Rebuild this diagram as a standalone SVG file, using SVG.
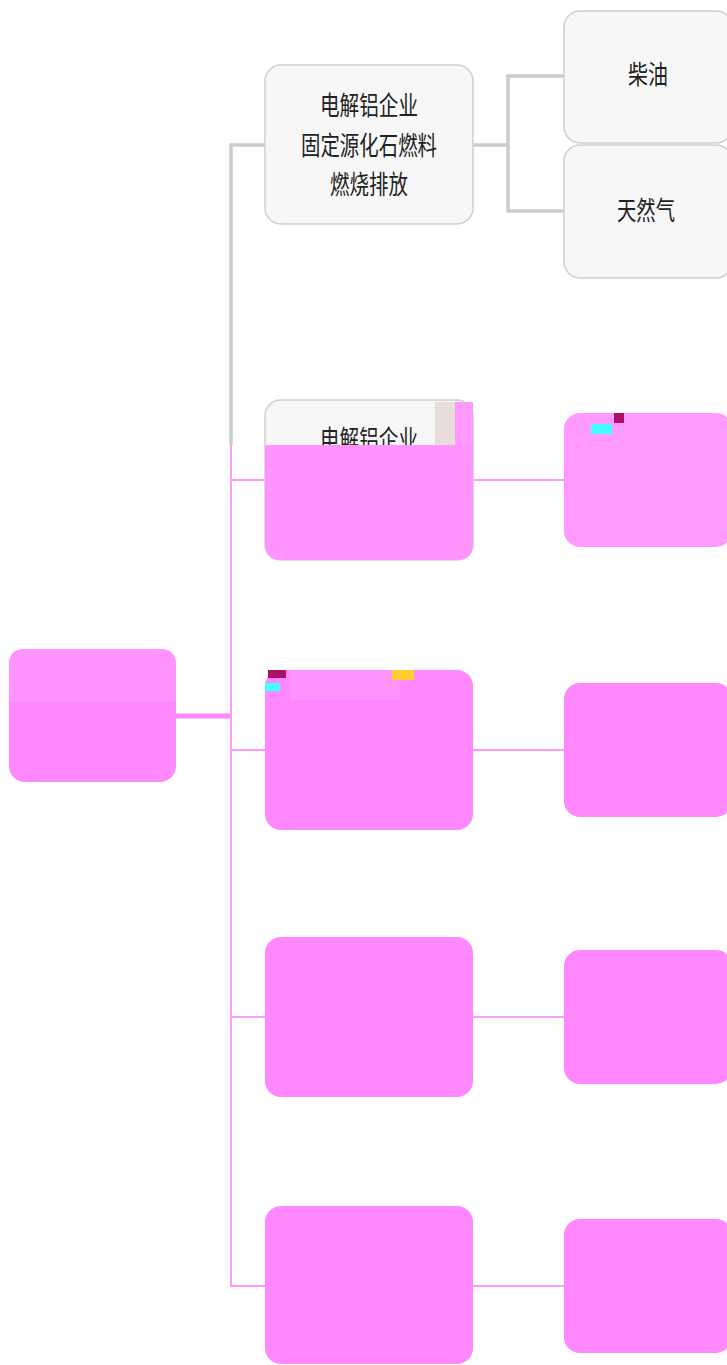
<svg xmlns="http://www.w3.org/2000/svg" width="727" height="1365" viewBox="0 0 727 1365">
<style>
.g{fill:#f7f7f7;stroke:#cfcfcf;stroke-width:1.5}
.p{fill:#ff88ff}
.cg{fill:none;stroke:#cccccc;stroke-width:3.5}
.cp{fill:none;stroke:#ff99ff;stroke-width:2}
.t{font-family:"Noto Sans CJK SC","Noto Sans",sans-serif;font-size:26px;fill:#222;text-anchor:middle}
</style>
<rect width="727" height="1365" fill="#ffffff"/>
<g id="connectors">
<path class="cg" d="M231,445 V145 H265"/>
<path class="cg" d="M473,145 H508 M564,76 H508 V211 H564"/>
<path class="cp" d="M231,445 V1286 H265"/>
<path class="cp" d="M231,480 H265 M473,480 H564"/>
<path class="cp" d="M231,750 H265 M473,750 H564"/>
<path class="cp" d="M231,1017 H265 M473,1017 H564"/>
<path class="cp" d="M473,1286 H564"/>
<path d="M176,716 H231" fill="none" stroke="#ff88ff" stroke-width="5"/>
</g>
<g id="root">
<rect class="p" x="9" y="649" width="167" height="133" rx="16"/>
<path d="M9,702 V665 Q9,649 25,649 H160 Q176,649 176,665 V702 Z" fill="#ff94ff"/>
</g>
<g id="n1">
<rect class="g" x="265" y="65" width="208" height="159" rx="16"/>
<text class="t" x="369" y="115" textLength="98" lengthAdjust="spacingAndGlyphs">电解铝企业</text>
<text class="t" x="369" y="155" textLength="136" lengthAdjust="spacingAndGlyphs">固定源化石燃料</text>
<text class="t" x="369" y="194" textLength="78" lengthAdjust="spacingAndGlyphs">燃烧排放</text>
</g>
<g id="n1a">
<rect class="g" x="564" y="11" width="168" height="132" rx="16"/>
<text class="t" x="648" y="84" textLength="40" lengthAdjust="spacingAndGlyphs">柴油</text>
</g>
<g id="n1b">
<rect class="g" x="564" y="145" width="168" height="133" rx="16"/>
<text class="t" x="646" y="220" textLength="58" lengthAdjust="spacingAndGlyphs">天然气</text>
</g>
<g id="n2">
<rect class="g" x="265" y="400" width="208" height="160" rx="16"/>
<text class="t" x="369" y="449" textLength="98" lengthAdjust="spacingAndGlyphs">电解铝企业</text>
<path d="M265,445 H473 V544 Q473,560 457,560 H281 Q265,560 265,544 Z" fill="#ff94ff"/>
<rect x="455" y="402" width="18" height="43" fill="#ff99ff"/>
<rect x="435" y="402" width="20" height="43" fill="#e8ddd8"/>
</g>
<g id="n2a">
<rect x="564" y="413" width="168" height="134" rx="16" fill="#ff99ff"/>
<rect x="591" y="424" width="21" height="10" fill="#44ffff"/>
<rect x="614" y="413" width="10" height="10" fill="#aa1166"/>
</g>
<g id="n3">
<rect class="p" x="265" y="670" width="208" height="160" rx="16"/>
<rect x="290" y="670" width="110" height="30" fill="#ff94ff"/>
<rect x="265" y="683" width="15" height="8" fill="#44ffff"/>
<rect x="268" y="670" width="18" height="8" fill="#aa1166"/>
<rect x="392" y="670" width="22" height="10" fill="#ffcc33"/>
</g>
<g id="n3a">
<rect class="p" x="564" y="683" width="168" height="134" rx="16"/>
</g>
<g id="n4">
<rect class="p" x="265" y="937" width="208" height="160" rx="16"/>
</g>
<g id="n4a">
<rect class="p" x="564" y="950" width="168" height="134" rx="16"/>
</g>
<g id="n5">
<rect class="p" x="265" y="1206" width="208" height="158" rx="16"/>
</g>
<g id="n5a">
<rect class="p" x="564" y="1219" width="168" height="134" rx="16"/>
</g>
</svg>
